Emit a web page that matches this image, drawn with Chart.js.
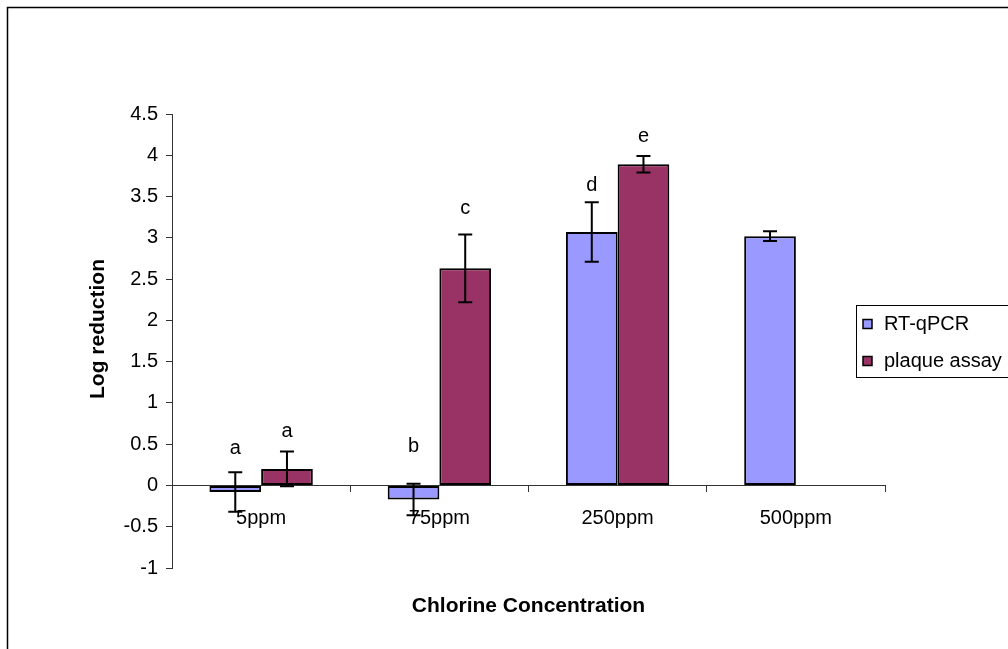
<!DOCTYPE html>
<html>
<head>
<meta charset="utf-8">
<script src="https://cdn.jsdelivr.net/npm/chart.js@4.4.0/dist/chart.umd.min.js"></script>
<style>
  html, body { margin: 0; padding: 0; background: #fff; }
  #wrap { width: 1008px; height: 649px; position: relative; }
</style>
</head>
<body>
<div id="wrap"><canvas id="chart" width="1008" height="649"></canvas></div>
<script>
// --- data ---
const categories = ["5ppm", "75ppm", "250ppm", "500ppm"];
const rtqpcr = [-0.08, -0.17, 3.07, 3.02];
const plaque = [0.2, 2.63, 3.89, null];
const rtErr = [0.24, 0.19, 0.36, 0.06];
const plaqueErr = [0.21, 0.41, 0.10, null];
const rtLetters = ["a", "b", "d", ""];
const plaqueLetters = ["a", "c", "e", ""];
// letter heights, in axis units
const rtLetterY = [0.45, 0.47, 3.64, null];
const plaqueLetterY = [0.65, 3.36, 4.23, null];
const yTicks = [-1, -0.5, 0, 0.5, 1, 1.5, 2, 2.5, 3, 3.5, 4, 4.5];

const FONT = "'Liberation Sans', Arial, sans-serif";
const errs = [rtErr, plaqueErr];
const letters = [rtLetters, plaqueLetters];
const letterY = [rtLetterY, plaqueLetterY];

// error bars, letters, titles, legend, frame
const extras = {
  id: "extras",
  afterDatasetsDraw(chart) {
    const ctx = chart.ctx;
    const y = chart.scales.y;
    ctx.save();
    chart.data.datasets.forEach((ds, i) => {
      const meta = chart.getDatasetMeta(i);
      meta.data.forEach((bar, j) => {
        const v = ds.data[j];
        if (v == null) return;
        const e = errs[i][j];
        const yTop = y.getPixelForValue(v + e);
        const yBot = y.getPixelForValue(v - e);
        ctx.strokeStyle = "#000";
        ctx.lineWidth = 2;
        ctx.beginPath();
        ctx.moveTo(bar.x, yTop); ctx.lineTo(bar.x, yBot);
        ctx.moveTo(bar.x - 7, yTop); ctx.lineTo(bar.x + 7, yTop);
        ctx.moveTo(bar.x - 7, yBot); ctx.lineTo(bar.x + 7, yBot);
        ctx.stroke();
        if (letters[i][j]) {
          ctx.fillStyle = "#000";
          ctx.font = "20px " + FONT;
          ctx.textAlign = "center";
          ctx.textBaseline = "middle";
          ctx.fillText(letters[i][j], bar.x, y.getPixelForValue(letterY[i][j]));
        }
      });
    });
    ctx.restore();
  },
  afterDraw(chart) {
    const ctx = chart.ctx;
    const area = chart.chartArea;
    ctx.save();
    // axis titles
    ctx.fillStyle = "#000";
    ctx.font = "bold 21px " + FONT;
    ctx.textAlign = "center";
    ctx.textBaseline = "middle";
    ctx.fillText("Chlorine Concentration", (area.left + area.right) / 2, 606);
    ctx.translate(98, 329);
    ctx.rotate(-Math.PI / 2);
    ctx.fillText("Log reduction", 0, 0);
    ctx.setTransform(1, 0, 0, 1, 0, 0);

    // legend
    ctx.strokeStyle = "#000";
    ctx.lineWidth = 1;
    ctx.strokeRect(856.5, 305.5, 200, 72);
    const items = [["RT-qPCR", "#9999FF", 324], ["plaque assay", "#993366", 361]];
    ctx.font = "20px " + FONT;
    ctx.textAlign = "left";
    items.forEach(([txt, col, cy]) => {
      ctx.fillStyle = col;
      ctx.fillRect(863, cy - 4.5, 9, 9);
      ctx.strokeStyle = "#000";
      ctx.lineWidth = 1.5;
      ctx.strokeRect(863, cy - 4.5, 9, 9);
      ctx.fillStyle = "#000";
      ctx.fillText(txt, 884, cy);
    });

    // outer frame
    ctx.strokeStyle = "#000";
    ctx.lineWidth = 1.5;
    ctx.strokeRect(7.5, 7.5, 1100, 1100);
    ctx.restore();
  }
};

new Chart(document.getElementById("chart"), {
  type: "bar",
  data: {
    labels: categories,
    datasets: [
      {
        label: "RT-qPCR",
        data: rtqpcr,
        backgroundColor: "#9999FF",
        borderColor: "#000",
        borderWidth: 2,
        borderSkipped: false
      },
      {
        label: "plaque assay",
        data: plaque,
        backgroundColor: "#993366",
        borderColor: "#000",
        borderWidth: 2,
        borderSkipped: false
      }
    ]
  },
  options: {
    responsive: false,
    animation: false,
    events: [],
    layout: { padding: { left: 0, top: 114, right: 123, bottom: 81 } },
    datasets: { bar: { categoryPercentage: 0.58, barPercentage: 1 } },
    plugins: { legend: { display: false }, tooltip: { enabled: false } },
    scales: {
      x: {
        position: { y: 0 },
        grid: { offset: true, drawOnChartArea: false, tickLength: 6, color: "#333" },
        border: { color: "#333", width: 1 },
        ticks: { color: "#000", padding: 15, maxRotation: 0, font: { family: FONT, size: 20 } }
      },
      y: {
        min: -1,
        max: 4.5,
        afterFit: s => { s.width = 172; },
        afterBuildTicks: s => { s.ticks = yTicks.map(v => ({ value: v })); },
        grid: { drawOnChartArea: false, tickLength: 6, color: "#333" },
        border: { color: "#333", width: 1 },
        ticks: { color: "#000", padding: 8, font: { family: FONT, size: 20 }, callback: v => String(v) }
      }
    }
  },
  plugins: [extras]
});
</script>
</body>
</html>
